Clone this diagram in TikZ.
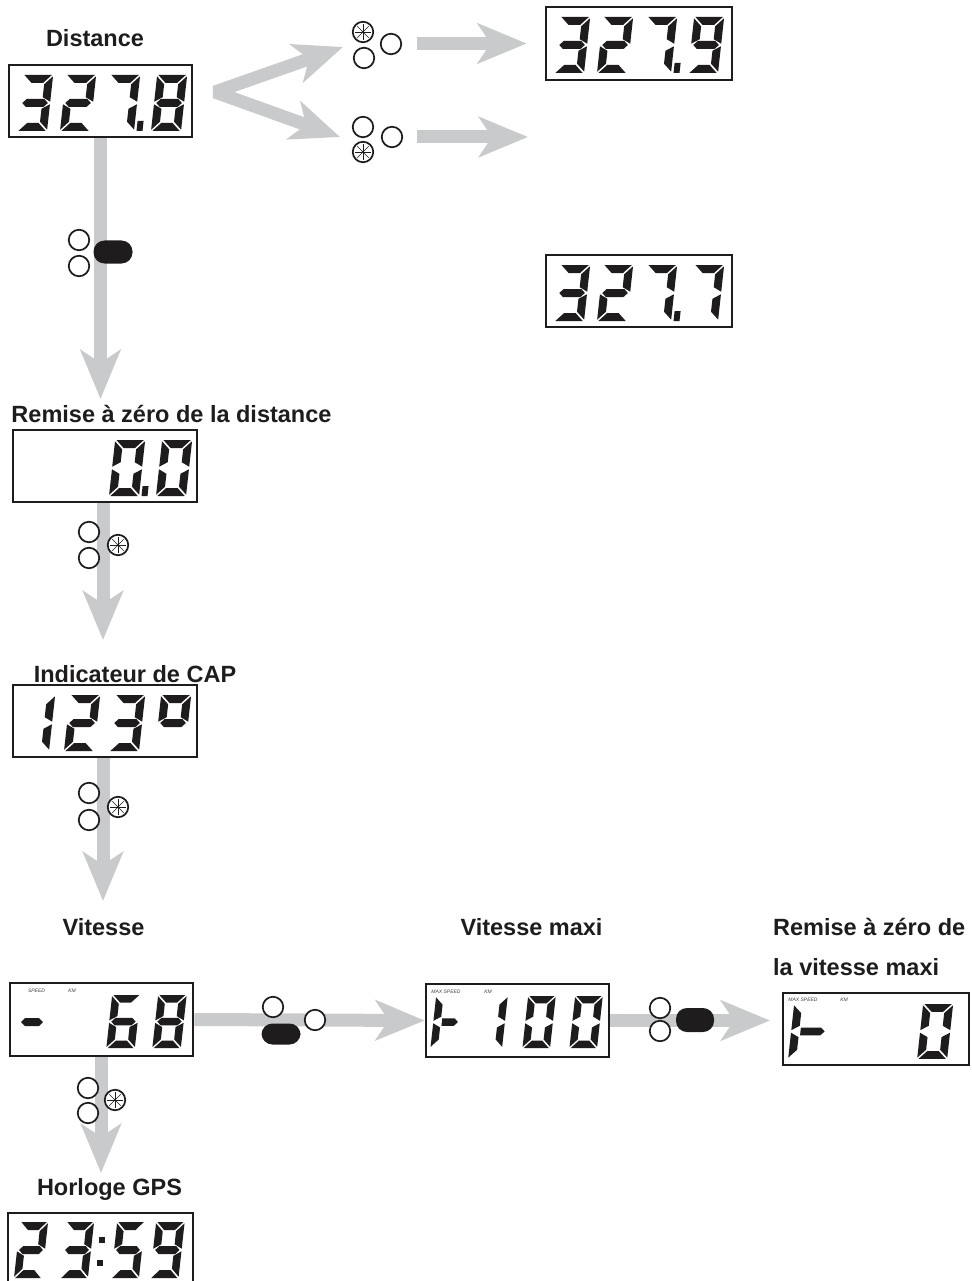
\documentclass[tikz,border=0pt]{standalone}
\usepackage{fontspec}
\setmainfont{Liberation Sans}
\usetikzlibrary{arrows.meta}
\definecolor{agray}{RGB}{201,202,204}
\definecolor{ink}{RGB}{30,28,29}
% seven-segment pieces (local cell 30 x 56, y downwards)
\newcommand\ssga{\fill[ink] (1.3,0) -- (28.7,0) -- (20.7,8) -- (9.3,8) -- cycle;}
\newcommand\ssgd{\fill[ink] (1.3,56) -- (28.7,56) -- (20.7,48) -- (9.3,48) -- cycle;}
\newcommand\ssgf{\fill[ink] (0,1.3) -- (8,9.3) -- (8,22.2) -- (0,26.7) -- cycle;}
\newcommand\ssge{\fill[ink] (0,54.7) -- (8,46.7) -- (8,33.8) -- (0,29.3) -- cycle;}
\newcommand\ssgb{\fill[ink] (30,1.3) -- (22,9.3) -- (22,22.2) -- (30,26.7) -- cycle;}
\newcommand\ssgc{\fill[ink] (30,54.7) -- (22,46.7) -- (22,33.8) -- (30,29.3) -- cycle;}
\newcommand\ssgg{\fill[ink] (2.2,28) -- (6.2,24) -- (23.8,24) -- (27.8,28) -- (23.8,32) -- (6.2,32) -- cycle;}
\newcommand\ssgh{\fill[ink] (9.3,24) -- (22.8,24) -- (26.8,28) -- (22.8,32) -- (9.3,32) -- cycle;}
\newcommand\ssgk{\fill[ink] (9.3,24) -- (29.5,24) -- (33.5,28) -- (29.5,32) -- (9.3,32) -- cycle;}
\newcommand\ssgp{\fill[ink] (32.5,46) -- (38.5,46) -- (38.5,56) -- (32.5,56) -- cycle;}
\newcommand\lcd[4][]{\begin{scope}[shift={(#2+6.16,#3)},xslant=0.11,#1]\foreach \s in {#4}{\csname ssg\s\endcsname}\end{scope}}
\tikzset{
  garrow/.style={draw=agray, line width=13pt, -{Stealth[length=49pt, width=40pt, inset=13pt]}},
  dispbox/.style={draw=ink, line width=2.7pt, fill=white, inner sep=0pt},
  lbl/.style={font=\fontsize{23.5}{26}\selectfont\bfseries, text=ink, inner sep=0pt},
  tinytxt/.style={font=\fontsize{5}{5}\selectfont\itshape, text=ink!85, inner sep=0pt},
  btn/.style={draw=ink, line width=1.7pt, fill=white, circle, minimum size=20.5pt, inner sep=0pt},
  starbtn/.style={btn, path picture={
      \foreach \a in {0,45,90,135}{\draw[ink, line width=0.6pt] (path picture bounding box.center) +(\a:8pt) -- +(\a+180:8pt);}
      \fill[ink] (path picture bounding box.center) circle (1.2pt);}},
  pill/.style={fill=ink, rounded corners=11pt, minimum width=39pt, minimum height=23pt, inner sep=0pt}
}
\begin{document}
\begin{tikzpicture}[x=1pt,y=-1pt]
\useasboundingbox (0,0) rectangle (971,1281);
\clip (0,0) rectangle (971,1281);

% ---------- display boxes ----------
\node[dispbox, minimum width=183pt, minimum height=72pt] (d1)  at (100.5,101) {};
\node[dispbox, minimum width=186pt, minimum height=73pt] (d1b) at (639,43.5) {};
\node[dispbox, minimum width=186pt, minimum height=72pt] (d1c) at (639,291) {};
\node[dispbox, minimum width=184pt, minimum height=72pt] (d2)  at (105,466) {};
\node[dispbox, minimum width=184pt, minimum height=72pt] (d3)  at (105,721) {};
\node[dispbox, minimum width=183pt, minimum height=73pt] (d4)  at (101.5,1019.5) {};
\node[dispbox, minimum width=183pt, minimum height=73pt] (d5)  at (517.5,1020.5) {};
\node[dispbox, minimum width=186pt, minimum height=72pt] (d6)  at (876,1029) {};
\node[dispbox, minimum width=185pt, minimum height=72pt] (d7)  at (100.5,1249) {};

% ---------- labels ----------
\node[lbl, anchor=base] (l1) at (95,47) {Distance};
\node[lbl, anchor=base] (l2) at (171.5,422) {Remise à zéro de la distance};
\node[lbl, anchor=base] (l3) at (135,682) {Indicateur de CAP};
\node[lbl, anchor=base] (l4) at (103.5,935) {Vitesse};
\node[lbl, anchor=base] (l5) at (531.5,935) {Vitesse maxi};
\node[lbl, anchor=base west] (l6a) at (773,935) {Remise à zéro de};
\node[lbl, anchor=base west] (l6b) at (773,975) {la vitesse maxi};
\node[lbl, anchor=base] (l7) at (109.5,1195) {Horloge GPS};

% ---------- connectors ----------
\coordinate (vx) at (215,92);
\coordinate (tu) at (343,47);
\coordinate (tl) at (340,137);
\draw[garrow, line join=bevel, {Stealth[length=49pt, width=40pt, inset=13pt]}-{Stealth[length=49pt, width=40pt, inset=13pt]}] (tu) -- (vx) -- (tl);
\coordinate (s1) at (417,43.5);
\draw[garrow, shorten >=18pt] (s1) -- (d1b.west);
\coordinate (s2) at (417,137);
\coordinate (e2) at (528,137);
\draw[garrow] (s2) -- (e2);
\coordinate (t1) at (100.5,399);
\draw[garrow] (d1.south) -- (t1);
\coordinate (t2) at (103,640);
\draw[garrow] (t2 |- d2.south) -- (t2);
\coordinate (t3) at (103,901);
\draw[garrow] (t3 |- d3.south) -- (t3);
\coordinate (t4) at (101,1173);
\draw[garrow] (t4 |- d4.south) -- (t4);
\draw[garrow] (d4.east) -- (d5.west);
\coordinate (t6) at (770,1020.5);
\draw[garrow] (d5.east) -- (t6);

% ---------- buttons ----------
\node[starbtn] (b1a) at (363,32) {};
\node[btn] (b1b) at (364,58) {};
\node[btn] (b1c) at (391,44) {};
\node[btn] (b2a) at (363,127) {};
\node[starbtn] (b2b) at (363,152) {};
\node[btn] (b2c) at (392,137) {};
\node[btn] (b3a) at (79,240) {};
\node[btn] (b3b) at (79,266) {};
\node[pill] (b3c) at (113,252) {};
\node[btn] (b4a) at (89,532) {};
\node[btn] (b4b) at (89,558) {};
\node[starbtn] (b4c) at (118,545) {};
\node[btn] (b5a) at (89,793) {};
\node[btn] (b5b) at (89,820) {};
\node[starbtn] (b5c) at (118,807) {};
\node[btn] (b6a) at (88,1088) {};
\node[btn] (b6b) at (88,1113) {};
\node[starbtn] (b6c) at (115,1100) {};
\node[btn] (b7a) at (273,1007) {};
\node[btn] (b7b) at (315,1020) {};
\node[pill, minimum height=21pt] (b7c) at (281,1034) {};
\node[btn] (b8a) at (660,1008) {};
\node[btn] (b8b) at (660,1031) {};
\node[pill, minimum width=38pt, minimum height=24pt] (b8c) at (695,1020) {};

% ---------- LCD digits ----------
% 327.8
\lcd{17}{75}{a,b,c,d,g}\lcd{60}{75}{a,b,d,e,g}\lcd{104}{75}{a,b,c,p}\lcd{151}{75}{a,b,c,d,e,f,g}
% 327.9
\lcd{554}{17}{a,b,c,d,g}\lcd{597}{17}{a,b,d,e,g}\lcd{641}{17}{a,b,c,p}\lcd{688}{17}{a,b,c,d,f,g}
% 327.7
\lcd{554}{265}{a,b,c,d,g}\lcd{597}{265}{a,b,d,e,g}\lcd{641}{265}{a,b,c,p}\lcd{688}{265}{a,b,c}
% 0.0
\lcd{109}{440}{a,b,c,d,e,f,p}\lcd{156}{440}{a,b,c,d,e,f}
% 123 deg
\lcd{19}{695}{b,c}\lcd{64}{695}{a,b,d,e,g}\lcd{109}{695}{a,b,c,d,g}\lcd{155}{695}{a,b,f,g}
% - 68
\fill[ink] (21,1022) -- (25,1018) -- (39,1018) -- (43,1022) -- (39,1026) -- (25,1026) -- cycle;
\lcd[yscale=0.95,xscale=0.95]{106}{995}{a,c,d,e,f,g}\lcd[yscale=0.95,xscale=0.95]{152}{995}{a,b,c,d,e,f,g}
\node[tinytxt] (sp4) at (36.5,991) {SPEED};
\node[tinytxt] (km4) at (72,991) {KM};
% |- 100
\lcd[yscale=0.93,xscale=0.92]{430}{996}{e,f,h}\lcd[yscale=0.93,xscale=0.92]{474}{996}{b,c}\lcd[yscale=0.93,xscale=0.92]{522}{996}{a,b,c,d,e,f}\lcd[yscale=0.93,xscale=0.92]{569}{996}{a,b,c,d,e,f}
\node[tinytxt] (sp5) at (446,992) {MAX SPEED};
\node[tinytxt] (km5) at (488,992) {KM};
% |- 0
\lcd[yscale=0.98]{788}{1004}{e,f,k}\lcd[yscale=0.98]{917}{1004}{a,b,c,d,e,f}
\node[tinytxt] (sp6) at (803,1000) {MAX SPEED};
\node[tinytxt] (km6) at (844,1000) {KM};
% 23:59
\lcd[xscale=0.93]{14}{1222}{a,b,d,e,g}\lcd[xscale=0.93]{60}{1222}{a,b,c,d,g}\lcd[xscale=0.93]{111}{1222}{a,c,d,f,g}\lcd[xscale=0.95]{150}{1222}{a,b,c,d,f,g}
\fill[ink] (99,1237) rectangle (105,1243);
\fill[ink] (97,1260) rectangle (103,1266);
\end{tikzpicture}
\end{document}
